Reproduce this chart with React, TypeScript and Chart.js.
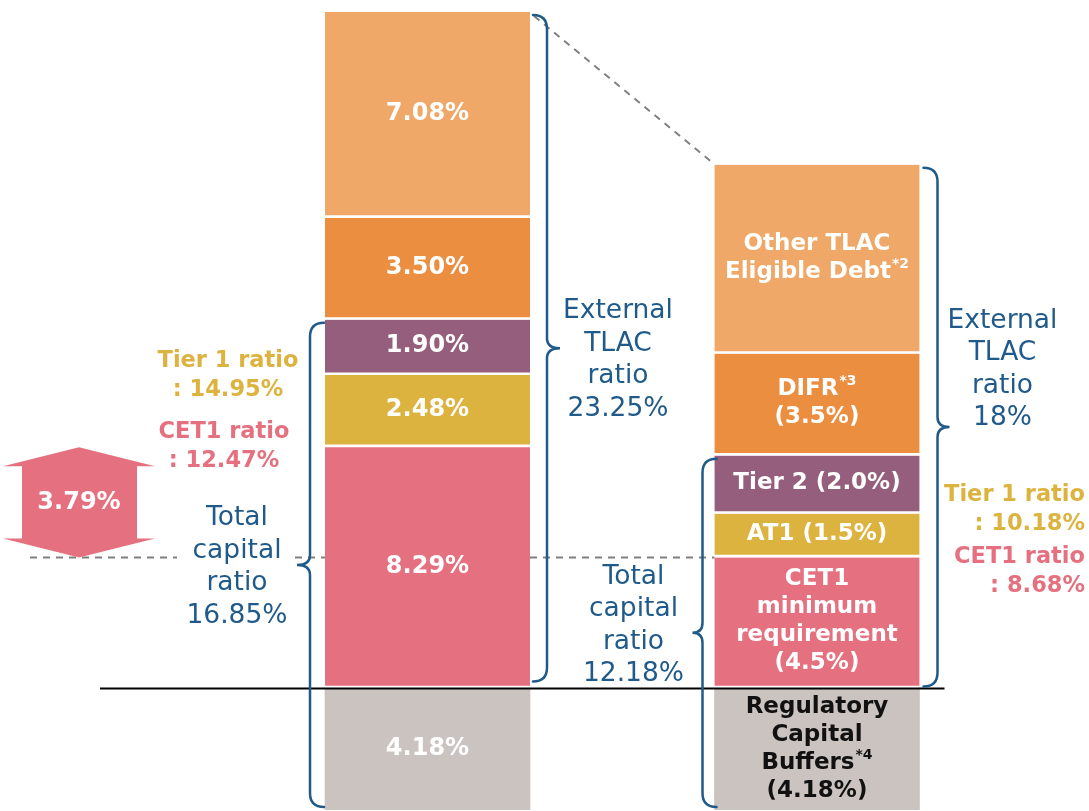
import { useEffect, useRef } from 'react';
import { Chart, registerables } from 'chart.js';

Chart.register(...registerables);

// ---- data ----
const categories = ['Current', 'Requirement'];
const layerNames = ['Regulatory Capital Buffers', 'CET1', 'AT1', 'Tier 2', 'DIFR', 'Other TLAC Eligible Debt'];
const currentValues = [4.18, 8.29, 2.48, 1.9, 3.5, 7.08];
const requiredValues = [4.18, 4.5, 1.5, 2.0, 3.5, 6.5];
const currentLabels = [['4.18%'], ['8.29%'], ['2.48%'], ['1.90%'], ['3.50%'], ['7.08%']];
const requiredLabels = [
  ['Regulatory', 'Capital', 'Buffers*4', '(4.18%)'],
  ['CET1', 'minimum', 'requirement', '(4.5%)'],
  ['AT1 (1.5%)'],
  ['Tier 2 (2.0%)'],
  ['DIFR*3', '(3.5%)'],
  ['Other TLAC', 'Eligible Debt*2'],
];
const layerColors = ['#CBC3BF', '#E5707F', '#DDB33F', '#955E7C', '#EB8E40', '#EFA867'];
const externalTLAC = ['23.25%', '18%'];
const totalCapital = ['16.85%', '12.18%'];
const tier1Ratio = ['14.95%', '10.18%'];
const cet1Ratio = ['12.47%', '8.68%'];
const cet1Gap = '3.79%';

const BLUE = '#1F5A8A';
const YELLOW = '#DDB33F';
const PINK = '#E5707F';
const FONT = '"DejaVu Sans", Verdana, sans-serif';

const sum = (a: number[], n = a.length) => a.slice(0, n).reduce((s, v) => s + v, 0);

function drawRich(ctx: CanvasRenderingContext2D, text: string, x: number, y: number, size: number, weight: string, color: string, align: 'center' | 'right' | 'left') {
  const idx = text.indexOf('*');
  const base = idx >= 0 ? text.slice(0, idx) : text;
  const sup = idx >= 0 ? text.slice(idx) : '';
  ctx.font = `${weight} ${size}px ${FONT}`;
  const wb = ctx.measureText(base).width;
  ctx.font = `${weight} ${Math.round(size * 0.62)}px ${FONT}`;
  const ws = sup ? ctx.measureText(sup).width + 1 : 0;
  const total = wb + ws;
  let sx = x;
  if (align === 'center') sx = x - total / 2;
  else if (align === 'right') sx = x - total;
  ctx.fillStyle = color;
  ctx.textAlign = 'left';
  ctx.textBaseline = 'middle';
  ctx.font = `${weight} ${size}px ${FONT}`;
  ctx.fillText(base, sx, y);
  if (sup) {
    ctx.font = `${weight} ${Math.round(size * 0.62)}px ${FONT}`;
    ctx.fillText(sup, sx + wb + 1, y - size * 0.33);
  }
}

function drawLines(ctx: CanvasRenderingContext2D, lines: string[], x: number, yFirst: number, lh: number, size: number, weight: string, color: string, align: 'center' | 'right' | 'left' = 'center') {
  lines.forEach((l, i) => drawRich(ctx, l, x, yFirst + i * lh, size, weight, color, align));
}

function drawBrace(ctx: CanvasRenderingContext2D, xv: number, y1: number, y2: number, dir: number, tip: number) {
  const r = 14;
  const ym = (y1 + y2) / 2;
  const t = 10;
  ctx.save();
  ctx.strokeStyle = BLUE;
  ctx.lineWidth = 2.5;
  ctx.lineCap = 'round';
  ctx.beginPath();
  ctx.moveTo(xv - dir * r, y1);
  ctx.quadraticCurveTo(xv, y1, xv, y1 + r);
  ctx.lineTo(xv, ym - t);
  ctx.quadraticCurveTo(xv, ym, xv + dir * tip, ym);
  ctx.quadraticCurveTo(xv, ym, xv, ym + t);
  ctx.lineTo(xv, y2 - r);
  ctx.quadraticCurveTo(xv, y2, xv - dir * r, y2);
  ctx.stroke();
  ctx.restore();
}

const decorPlugin = {
  id: 'decor',
  beforeDatasetsDraw(chart: any) {
    const ctx: CanvasRenderingContext2D = chart.ctx;
    const y = chart.scales.y;
    const bar0 = chart.getDatasetMeta(0).data[0];
    const bar1 = chart.getDatasetMeta(0).data[1];
    const l0 = bar0.x - bar0.width / 2, r0 = bar0.x + bar0.width / 2;
    const l1 = bar1.x - bar1.width / 2;
    ctx.save();
    ctx.strokeStyle = '#808080';
    ctx.lineWidth = 2;
    ctx.setLineDash([7, 6]);
    // horizontal at right-bar CET1 level
    const yc = y.getPixelForValue(sum(requiredValues, 2));
    const txtX = l0 - 88;
    ctx.beginPath();
    ctx.moveTo(30, yc);
    ctx.lineTo(txtX - 60, yc);
    ctx.moveTo(txtX + 58, yc);
    ctx.lineTo(l0, yc);
    ctx.moveTo(r0, yc);
    ctx.lineTo(l1, yc);
    ctx.stroke();
    // diagonal
    ctx.beginPath();
    ctx.moveTo(r0 + 4, y.getPixelForValue(sum(currentValues)) + 4);
    ctx.lineTo(l1 - 2, y.getPixelForValue(sum(requiredValues)) - 2);
    ctx.stroke();
    ctx.restore();
  },
  afterDatasetsDraw(chart: any) {
    const ctx: CanvasRenderingContext2D = chart.ctx;
    const y = chart.scales.y;
    // block labels
    for (let i = 0; i < layerNames.length; i++) {
      const meta = chart.getDatasetMeta(i);
      [currentLabels[i], requiredLabels[i]].forEach((lines, j) => {
        const el = meta.data[j];
        const bottom = i === 0 ? el.base : el.base - 3;
        const cy = (el.y + bottom) / 2;
        const lh = 28;
        const color = j === 1 && i === 0 ? '#111111' : '#FFFFFF';
        drawLines(ctx, lines, el.x, cy - ((lines.length - 1) * lh) / 2, lh, j === 0 ? 24 : 23, 'bold', color);
      });
    }
    const bar0 = chart.getDatasetMeta(0).data[0];
    const bar1 = chart.getDatasetMeta(0).data[1];
    const l0 = bar0.x - bar0.width / 2, r0 = bar0.x + bar0.width / 2;
    const l1 = bar1.x - bar1.width / 2, r1 = bar1.x + bar1.width / 2;
    const baseY = y.getPixelForValue(currentValues[0]);
    const bottomY = y.getPixelForValue(0);

    // black baseline
    ctx.save();
    ctx.strokeStyle = '#000';
    ctx.lineWidth = 2;
    ctx.beginPath();
    ctx.moveTo(100, baseY);
    ctx.lineTo(r1 + 25, baseY);
    ctx.stroke();
    ctx.restore();

    // braces
    const topL = y.getPixelForValue(sum(currentValues));
    const topR = y.getPixelForValue(sum(requiredValues));
    const tcL = y.getPixelForValue(sum(currentValues, 4));
    const tcR = y.getPixelForValue(sum(requiredValues, 4));
    drawBrace(ctx, r0 + 17, topL + 3, baseY - 7, 1, 13);
    drawBrace(ctx, l0 - 15, tcL + 3, bottomY - 3, -1, 13);
    drawBrace(ctx, r1 + 18, topR + 3, baseY - 2, 1, 12);
    drawBrace(ctx, l1 - 12, tcR + 3, bottomY - 3, -1, 10);

    const lhB = 32.5;
    const bs = 26.5;
    // External TLAC texts
    const midL = (topL + baseY) / 2;
    drawLines(ctx, ['External', 'TLAC', 'ratio', externalTLAC[0]], r0 + 88, midL + 10 - 1.5 * lhB, lhB, bs, 'normal', BLUE);
    const midR = (topR + baseY) / 2;
    drawLines(ctx, ['External', 'TLAC', 'ratio', externalTLAC[1]], r1 + 83, midR - 57 - 1.5 * lhB, lhB, bs, 'normal', BLUE);
    // Total capital texts
    const midTL = (tcL + bottomY) / 2;
    drawLines(ctx, ['Total', 'capital', 'ratio', totalCapital[0]], l0 - 88, midTL + 2 - 1.5 * lhB, lhB, bs, 'normal', BLUE);
    drawLines(ctx, ['Total', 'capital', 'ratio', totalCapital[1]], l1 - 81, baseY - 14 - 3 * lhB, lhB, bs, 'normal', BLUE);

    // ratio labels
    const t1L = y.getPixelForValue(sum(currentValues, 3));
    const c1L = y.getPixelForValue(sum(currentValues, 2));
    drawLines(ctx, ['Tier 1 ratio', ': ' + tier1Ratio[0]], l0 - 97, t1L - 14, 29, 22.5, 'bold', YELLOW);
    drawLines(ctx, ['CET1 ratio', ': ' + cet1Ratio[0]], l0 - 101, c1L - 15, 29, 22.5, 'bold', PINK);
    const t1R = y.getPixelForValue(sum(requiredValues, 3));
    const c1R = y.getPixelForValue(sum(requiredValues, 2));
    drawLines(ctx, ['Tier 1 ratio', ': ' + tier1Ratio[1]], 1085, t1R - 19, 29, 22.5, 'bold', YELLOW, 'right');
    drawLines(ctx, ['CET1 ratio', ': ' + cet1Ratio[1]], 1085, c1R, 29, 22.5, 'bold', PINK, 'right');

    // double arrow for CET1 gap
    const aTop = c1L;
    const aBot = y.getPixelForValue(sum(requiredValues, 2));
    const ax1 = 3, ax2 = 155, sx1 = 22, sx2 = 137, hh = 19;
    const acx = (ax1 + ax2) / 2;
    ctx.save();
    ctx.fillStyle = PINK;
    ctx.beginPath();
    ctx.moveTo(acx, aTop);
    ctx.lineTo(ax2, aTop + hh);
    ctx.lineTo(sx2, aTop + hh);
    ctx.lineTo(sx2, aBot - hh);
    ctx.lineTo(ax2, aBot - hh);
    ctx.lineTo(acx, aBot);
    ctx.lineTo(ax1, aBot - hh);
    ctx.lineTo(sx1, aBot - hh);
    ctx.lineTo(sx1, aTop + hh);
    ctx.lineTo(ax1, aTop + hh);
    ctx.closePath();
    ctx.fill();
    ctx.restore();
    drawRich(ctx, cet1Gap, acx, (aTop + aBot) / 2, 24, 'bold', '#FFFFFF', 'center');
  },
};

export default function App() {
  const ref = useRef<HTMLCanvasElement>(null);
  useEffect(() => {
    if (!ref.current) return;
    const chart = new Chart(ref.current, {
      type: 'bar',
      data: {
        labels: categories,
        datasets: layerNames.map((name, i) => ({
          label: name,
          data: [currentValues[i], requiredValues[i]],
          backgroundColor: layerColors[i],
          borderColor: '#FFFFFF',
          borderWidth: i === 0 ? 0 : { top: 0, left: 0, right: 0, bottom: 3 },
          borderSkipped: false,
          barThickness: 205,
        })),
      },
      options: {
        responsive: false,
        animation: false,
        devicePixelRatio: 1,
        layout: { padding: { left: 232.75, right: 77.25, top: 12, bottom: 1 } },
        scales: {
          x: { display: false, stacked: true, offset: true },
          y: { display: false, stacked: true, min: 0, max: sum(currentValues) },
        },
        plugins: { legend: { display: false }, tooltip: { enabled: false } },
      },
      plugins: [decorPlugin],
    } as any);
    return () => chart.destroy();
  }, []);
  return (
    <div style={{ position: 'fixed', left: 0, top: 0, width: 1089, height: 811, background: '#fff' }}>
      <canvas ref={ref} width={1089} height={811} style={{ display: 'block' }} />
    </div>
  );
}
